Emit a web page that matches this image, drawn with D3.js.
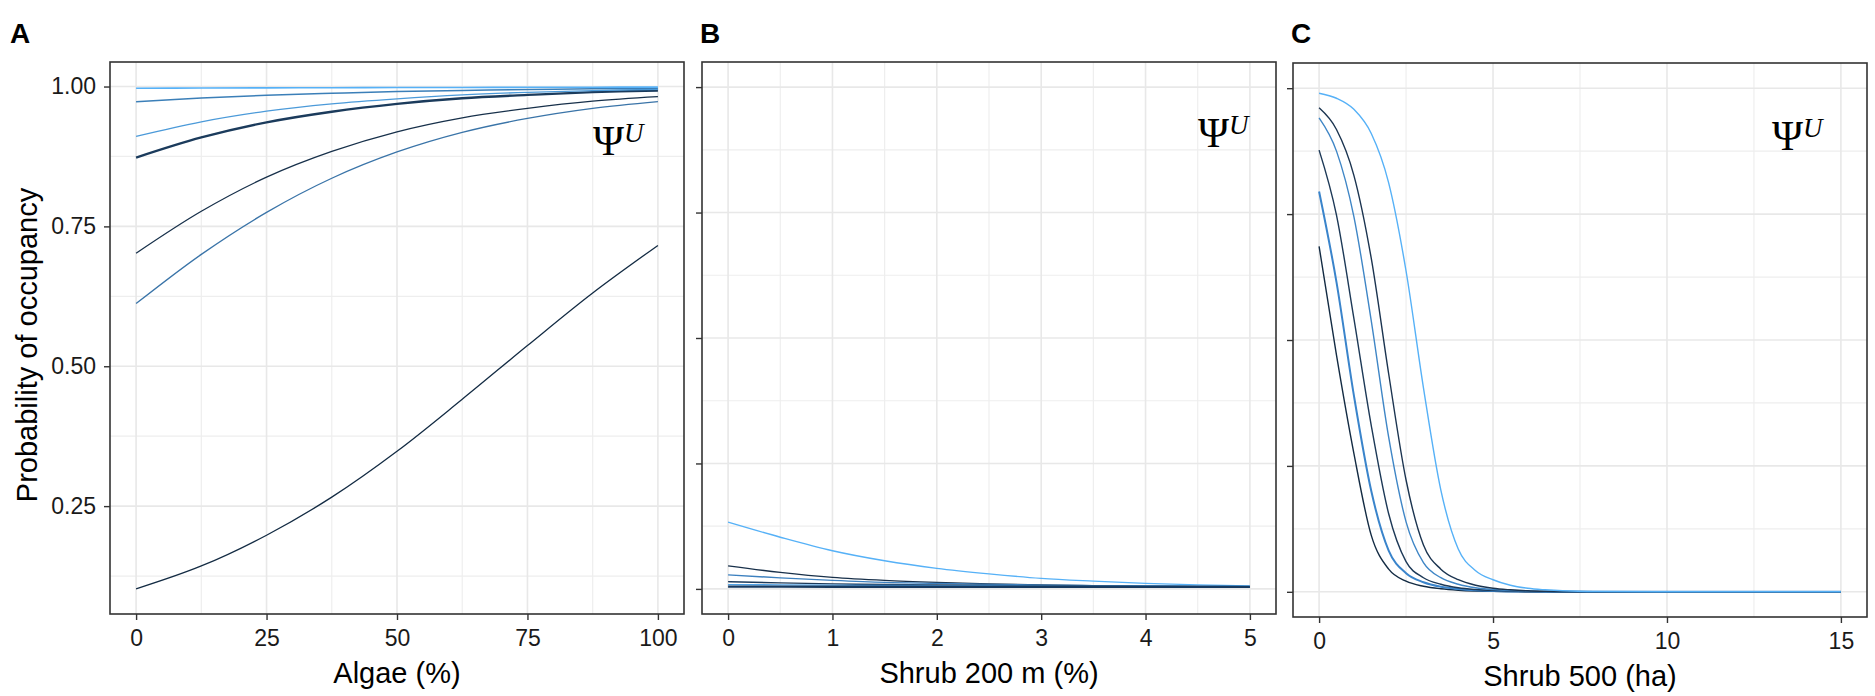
<!DOCTYPE html>
<html><head><meta charset="utf-8">
<script src="https://cdn.jsdelivr.net/npm/d3@7"></script>
<style>body{margin:0;background:#fff}</style>
</head><body><svg id="chart" width="1875" height="696"></svg>
<script>
// ---------------- DATA ----------------
// Panel A: Algae (%)
const algaeX = [0, 12.5, 25, 37.5, 50, 62.5, 75, 87.5, 100];
const algaeTicks = [0, 25, 50, 75, 100];
const aTop    = [0.997, 0.9973, 0.9976, 0.9979, 0.9982, 0.9984, 0.9986, 0.9988, 0.999];
const aHigh   = [0.973, 0.9794, 0.9843, 0.988, 0.991, 0.9931, 0.9948, 0.996, 0.997];
const aLight  = [0.911, 0.937, 0.956, 0.969, 0.978, 0.985, 0.9896, 0.9928, 0.995];
const aNavy   = [0.873, 0.909, 0.936, 0.955, 0.969, 0.979, 0.985, 0.990, 0.993];
const aDark   = [0.702, 0.777, 0.838, 0.884, 0.919, 0.944, 0.961, 0.974, 0.982];
const aMid    = [0.612, 0.700, 0.775, 0.836, 0.883, 0.918, 0.943, 0.961, 0.973];
const aLow    = [0.102, 0.143, 0.198, 0.266, 0.348, 0.441, 0.537, 0.631, 0.716];

// Panel B: Shrub 200 m (%)
const shrub200X = [0, 0.5, 1, 1.5, 2, 2.5, 3, 3.5, 4, 4.5, 5];
const shrub200Ticks = [0, 1, 2, 3, 4, 5];
const bTop   = [0.133, 0.103, 0.076, 0.056, 0.041, 0.030, 0.021, 0.0155, 0.011, 0.008, 0.006];
const bDark  = [0.046, 0.033, 0.023, 0.017, 0.013, 0.010, 0.008, 0.0065, 0.0053, 0.0045, 0.0038];
const bMid   = [0.028, 0.022, 0.017, 0.013, 0.011, 0.009, 0.0075, 0.0065, 0.0057, 0.005, 0.0045];
const bNavy  = [0.0145, 0.012, 0.010, 0.0088, 0.0078, 0.007, 0.0063, 0.0057, 0.0052, 0.0048, 0.0044];
const bLight = [0.0085, 0.008, 0.0075, 0.007, 0.0066, 0.0062, 0.0058, 0.0055, 0.0052, 0.005, 0.0048];
const bDeep  = [0.0045, 0.0045, 0.0044, 0.0044, 0.0043, 0.0043, 0.0042, 0.0042, 0.0041, 0.0041, 0.004];

// Panel C: Shrub 500 (ha)
const shrub500X = [0, 0.5, 1, 1.5, 2, 2.5, 3, 3.5, 4, 4.5, 5, 5.5, 6, 6.5, 7, 8, 10, 12, 15];
const shrub500Ticks = [0, 5, 10, 15];
const cTop   = [0.990, 0.980, 0.958, 0.910, 0.812, 0.637, 0.405, 0.202, 0.085, 0.042, 0.024, 0.013, 0.007, 0.004, 0.002, 0.0005, 0, 0, 0];
const cDark  = [0.961, 0.918, 0.827, 0.662, 0.433, 0.222, 0.093, 0.045, 0.024, 0.013, 0.007, 0.004, 0.002, 0.001, 0.0005, 0, 0, 0, 0];
const cMid   = [0.941, 0.875, 0.745, 0.538, 0.307, 0.139, 0.058, 0.028, 0.015, 0.008, 0.0045, 0.0025, 0.0013, 0.0007, 0.0003, 0, 0, 0, 0];
const cNavy  = [0.877, 0.748, 0.543, 0.330, 0.155, 0.060, 0.028, 0.015, 0.008, 0.0045, 0.0025, 0.0013, 0.0007, 0.0003, 0.0001, 0, 0, 0, 0];
const cBlue  = [0.795, 0.615, 0.390, 0.200, 0.082, 0.037, 0.019, 0.010, 0.0055, 0.003, 0.0016, 0.0008, 0.0004, 0.0002, 0.0001, 0, 0, 0, 0];
const cLow   = [0.686, 0.470, 0.275, 0.112, 0.045, 0.021, 0.011, 0.006, 0.0032, 0.0017, 0.0009, 0.0005, 0.0002, 0.0001, 0, 0, 0, 0, 0];

const probTicksA = [0.25, 0.50, 0.75, 1.00];
const probTicksBC = [0, 0.25, 0.5, 0.75, 1];

// ---------------- DRAW ----------------
const svg = d3.select('#chart');
svg.append('rect').attr('width', 1875).attr('height', 696).attr('fill', '#fff');

const SANS = '"Liberation Sans", Arial, sans-serif';
const SERIF = '"Liberation Serif", "Times New Roman", serif';

function expand(d) { const r = d[1] - d[0]; return [d[0] - r * 0.05, d[1] + r * 0.05]; }
function minors(t) { const m = []; for (let i = 0; i < t.length - 1; i++) m.push((t[i] + t[i+1]) / 2); return m; }

const panels = [
  { id: 'A', left: 110, right: 684, top: 62, bottom: 614, xs: algaeX, xTicks: algaeTicks,
    xTitle: 'Algae (%)', yTicks: probTicksA, yLabels: true, yDomain: null, curve: d3.curveCatmullRom.alpha(0.5),
    series: [
      { v: aLow,  c: '#132B43', w: 1.3 },
      { v: aMid,  c: '#3a74a8', w: 1.3 },
      { v: aDark, c: '#17304a', w: 1.3 },
      { v: aNavy, c: '#1b3b5c', w: 2.4 },
      { v: aLight,c: '#4b9ad9', w: 1.3 },
      { v: aHigh, c: '#3b7fb8', w: 1.5 },
      { v: aTop,  c: '#56B1F7', w: 1.6 }],
    psi: { x: 593, y: 155 } },
  { id: 'B', left: 702, right: 1276, top: 62, bottom: 614, xs: shrub200X, xTicks: shrub200Ticks,
    xTitle: 'Shrub 200 m (%)', yTicks: probTicksBC, yLabels: false, yDomain: [0, 1], curve: d3.curveMonotoneX,
    series: [
      { v: bTop,  c: '#56B1F7', w: 1.4 },
      { v: bDark, c: '#18304a', w: 1.4 },
      { v: bMid,  c: '#3c80bf', w: 1.4 },
      { v: bNavy, c: '#1c3a5a', w: 1.4 },
      { v: bLight,c: '#4fa2e6', w: 1.4 },
      { v: bDeep, c: '#173a60', w: 2.4 }],
    psi: { x: 1198, y: 147 } },
  { id: 'C', left: 1293, right: 1867, top: 63, bottom: 617, xs: shrub500X, xTicks: shrub500Ticks,
    xTitle: 'Shrub 500 (ha)', yTicks: probTicksBC, yLabels: false, yDomain: [0, 1], curve: d3.curveMonotoneX,
    series: [
      { v: cLow,  c: '#132B43', w: 1.4 },
      { v: cBlue, c: '#3a84cb', w: 2.0 },
      { v: cNavy, c: '#1d3957', w: 1.4 },
      { v: cMid,  c: '#3f86c6', w: 1.4 },
      { v: cDark, c: '#1b3450', w: 1.4 },
      { v: cTop,  c: '#56B1F7', w: 1.4 }],
    psi: { x: 1772, y: 150 } }
];

panels.forEach((p, pi) => {
  const g = svg.append('g');
  const xDom = d3.extent(p.xs);
  const yDom = p.yDomain || d3.extent(p.series.flatMap(s => s.v));
  const x = d3.scaleLinear().domain(expand(xDom)).range([p.left, p.right]);
  const y = d3.scaleLinear().domain(expand(yDom)).range([p.bottom, p.top]);
  const [x0, x1] = x.domain(), [y0, y1] = y.domain();

  // grid (minor then major)
  const grid = g.append('g');
  minors(p.xTicks).filter(v => v > x0 && v < x1).forEach(v =>
    grid.append('line').attr('x1', x(v)).attr('x2', x(v)).attr('y1', p.top).attr('y2', p.bottom)
      .attr('stroke', '#eeeeee').attr('stroke-width', 1.2));
  minors(p.yTicks).concat(p.yLabels ? [p.yTicks[0] - 0.125] : []).filter(v => v > y0 && v < y1).forEach(v =>
    grid.append('line').attr('y1', y(v)).attr('y2', y(v)).attr('x1', p.left).attr('x2', p.right)
      .attr('stroke', '#eeeeee').attr('stroke-width', 1.2));
  p.xTicks.forEach(v =>
    grid.append('line').attr('x1', x(v)).attr('x2', x(v)).attr('y1', p.top).attr('y2', p.bottom)
      .attr('stroke', '#e8e8e8').attr('stroke-width', 1.6));
  p.yTicks.forEach(v =>
    grid.append('line').attr('y1', y(v)).attr('y2', y(v)).attr('x1', p.left).attr('x2', p.right)
      .attr('stroke', '#e8e8e8').attr('stroke-width', 1.6));

  // clip
  const cid = 'clip' + p.id;
  svg.append('clipPath').attr('id', cid).append('rect')
    .attr('x', p.left).attr('y', p.top).attr('width', p.right - p.left).attr('height', p.bottom - p.top);

  const line = d3.line().x(d => x(d[0])).y(d => y(d[1])).curve(p.curve);
  const lg = g.append('g').attr('clip-path', `url(#${cid})`);
  p.series.forEach(s => {
    lg.append('path').datum(p.xs.map((xv, i) => [xv, s.v[i]]))
      .attr('d', line).attr('fill', 'none').attr('stroke', s.c).attr('stroke-width', s.w);
  });

  // border
  g.append('rect').attr('x', p.left).attr('y', p.top).attr('width', p.right - p.left).attr('height', p.bottom - p.top)
    .attr('fill', 'none').attr('stroke', '#333').attr('stroke-width', 1.6);

  // axes
  const xa = g.append('g').attr('transform', `translate(0,${p.bottom})`)
    .call(d3.axisBottom(x).tickValues(p.xTicks).tickSize(6).tickPadding(10).tickFormat(d3.format('d')));
  const ya = g.append('g').attr('transform', `translate(${p.left},0)`)
    .call(d3.axisLeft(y).tickValues(p.yTicks).tickSize(6).tickPadding(8)
      .tickFormat(p.yLabels ? d3.format('.2f') : () => ''));
  [xa, ya].forEach(a => {
    a.select('.domain').remove();
    a.selectAll('.tick line').attr('stroke', '#333').attr('stroke-width', 1.4);
    a.selectAll('.tick text').attr('fill', '#1a1a1a').style('font-family', SANS).style('font-size', '23px');
  });

  // x title
  g.append('text').attr('x', (p.left + p.right) / 2).attr('y', p.bottom + 69)
    .attr('text-anchor', 'middle').style('font-family', SANS).style('font-size', '29px')
    .attr('fill', '#000').text(p.xTitle);

  // panel tag
  g.append('text').attr('x', pi === 0 ? 10 : p.left - 2).attr('y', 43)
    .style('font-family', SANS).style('font-size', '28px').style('font-weight', 'bold')
    .attr('fill', '#000').text(p.id);

  // Psi^U annotation
  const t = g.append('text').attr('x', p.psi.x).attr('y', p.psi.y)
    .style('font-family', SERIF).attr('fill', '#000');
  t.append('tspan').style('font-size', '42px').text('Ψ');
  t.append('tspan').attr('dy', -13).style('font-size', '27px').style('font-style', 'italic').text('U');
});

// y title
svg.append('text').attr('transform', 'translate(37,345) rotate(-90)')
  .attr('text-anchor', 'middle').style('font-family', SANS).style('font-size', '29px')
  .attr('fill', '#000').text('Probability of occupancy');
</script></body></html>
